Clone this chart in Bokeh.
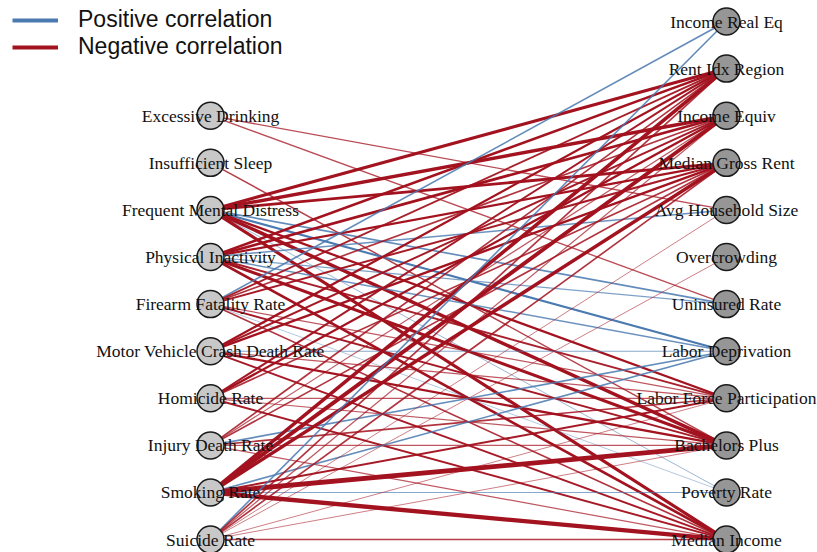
from bokeh.plotting import figure
from bokeh.models import Range1d, ColumnDataSource, Legend, LegendItem
from bokeh.core.properties import value
from bokeh.embed import file_html
from bokeh.resources import INLINE

left_nodes = ["Excessive Drinking", "Insufficient Sleep", "Frequent Mental Distress",
              "Physical Inactivity", "Firearm Fatality Rate", "Motor Vehicle Crash Death Rate",
              "Homicide Rate", "Injury Death Rate", "Smoking Rate", "Suicide Rate"]
right_nodes = ["Income Real Eq", "Rent Idx Region", "Income Equiv", "Median Gross Rent",
               "Avg Household Size", "Overcrowding", "Uninsured Rate", "Labor Deprivation",
               "Labor Force Participation", "Bachelors Plus", "Poverty Rate", "Median Income"]

# edges: (left node, right node, correlation)
edge_src = [
    "Excessive Drinking", "Excessive Drinking",
    "Insufficient Sleep",
    "Frequent Mental Distress", "Frequent Mental Distress", "Frequent Mental Distress",
    "Frequent Mental Distress", "Frequent Mental Distress", "Frequent Mental Distress",
    "Frequent Mental Distress", "Frequent Mental Distress", "Frequent Mental Distress",
    "Physical Inactivity", "Physical Inactivity", "Physical Inactivity", "Physical Inactivity",
    "Physical Inactivity", "Physical Inactivity", "Physical Inactivity", "Physical Inactivity",
    "Physical Inactivity",
    "Firearm Fatality Rate", "Firearm Fatality Rate", "Firearm Fatality Rate", "Firearm Fatality Rate",
    "Firearm Fatality Rate", "Firearm Fatality Rate", "Firearm Fatality Rate", "Firearm Fatality Rate",
    "Motor Vehicle Crash Death Rate", "Motor Vehicle Crash Death Rate", "Motor Vehicle Crash Death Rate",
    "Motor Vehicle Crash Death Rate", "Motor Vehicle Crash Death Rate", "Motor Vehicle Crash Death Rate",
    "Motor Vehicle Crash Death Rate",
    "Homicide Rate", "Homicide Rate", "Homicide Rate", "Homicide Rate", "Homicide Rate", "Homicide Rate",
    "Injury Death Rate", "Injury Death Rate", "Injury Death Rate", "Injury Death Rate",
    "Injury Death Rate", "Injury Death Rate", "Injury Death Rate",
    "Smoking Rate", "Smoking Rate", "Smoking Rate", "Smoking Rate", "Smoking Rate",
    "Smoking Rate", "Smoking Rate", "Smoking Rate",
    "Suicide Rate", "Suicide Rate", "Suicide Rate", "Suicide Rate", "Suicide Rate",
    "Suicide Rate", "Suicide Rate", "Suicide Rate", "Suicide Rate",
]
edge_dst = [
    "Avg Household Size", "Uninsured Rate",
    "Bachelors Plus",
    "Rent Idx Region", "Income Equiv", "Median Gross Rent",
    "Uninsured Rate", "Labor Deprivation", "Poverty Rate",
    "Labor Force Participation", "Bachelors Plus", "Median Income",
    "Rent Idx Region", "Income Equiv", "Median Gross Rent", "Avg Household Size",
    "Uninsured Rate", "Labor Deprivation", "Labor Force Participation", "Bachelors Plus",
    "Median Income",
    "Income Real Eq", "Rent Idx Region", "Income Equiv", "Median Gross Rent",
    "Labor Force Participation", "Bachelors Plus", "Poverty Rate", "Median Income",
    "Rent Idx Region", "Income Equiv", "Median Gross Rent",
    "Labor Deprivation", "Labor Force Participation", "Bachelors Plus",
    "Median Income",
    "Rent Idx Region", "Income Equiv", "Median Gross Rent", "Labor Force Participation",
    "Bachelors Plus", "Median Income",
    "Rent Idx Region", "Income Equiv", "Median Gross Rent", "Labor Deprivation",
    "Labor Force Participation", "Bachelors Plus", "Median Income",
    "Rent Idx Region", "Income Equiv", "Median Gross Rent", "Labor Deprivation",
    "Labor Force Participation", "Bachelors Plus", "Poverty Rate", "Median Income",
    "Income Real Eq", "Rent Idx Region", "Income Equiv", "Median Gross Rent", "Avg Household Size",
    "Overcrowding", "Labor Force Participation", "Bachelors Plus", "Median Income",
]
edge_r = [
    -0.38, -0.38,
    -0.40,
    -0.62, -0.66, -0.58,
    0.42, 0.48, 0.32,
    -0.50, -0.66, -0.62,
    -0.52, -0.56, -0.50, 0.40,
    0.36, 0.40, -0.45, -0.62,
    -0.56,
    0.42, -0.45, -0.42, -0.46,
    -0.36, -0.46, 0.30, -0.42,
    -0.50, -0.46, -0.52,
    0.34, -0.36, -0.50,
    -0.46,
    -0.46, -0.50, -0.42, -0.36,
    -0.36, -0.46,
    -0.42, -0.36, -0.42, 0.42,
    -0.42, -0.36, -0.36,
    -0.68, -0.72, -0.66, 0.42,
    -0.46, -0.85, 0.34, -0.78,
    0.42, -0.42, -0.36, -0.42, -0.32,
    -0.32, -0.32, -0.32, -0.40,
]

POS = "#4a7ab0"
NEG = "#a3121f"

# positions: left column x=0, right column x=1; rows share the same vertical grid
ly = {n: i + 2 for i, n in enumerate(left_nodes)}
ry = {n: i for i, n in enumerate(right_nodes)}

xs, ys, cols, widths, alphas = [], [], [], [], []
for s, d, r in zip(edge_src, edge_dst, edge_r):
    xs.append([0, 1])
    ys.append([ly[s], ry[d]])
    cols.append(POS if r > 0 else NEG)
    widths.append(0.6 + (abs(r) - 0.28) * 7.5)
    alphas.append(min(1.0, 0.5 + (abs(r) - 0.28) * 2.6))

esrc = ColumnDataSource(dict(xs=xs, ys=ys, c=cols, w=widths, a=alphas))

p = figure(width=817, height=552, output_backend="svg", toolbar_location=None,
           x_range=Range1d(-0.40698, 1.17636), y_range=Range1d(11.274, -0.4459),
           min_border=0)
p.axis.visible = False
p.xgrid.visible = False
p.ygrid.visible = False
p.outline_line_color = None

p.multi_line("xs", "ys", source=esrc, line_color="c", line_width="w", line_alpha="a")

p.scatter([0] * len(left_nodes), [ly[n] for n in left_nodes], size=27,
          fill_color="#c8c8c8", line_color="#1a1a1a", line_width=1.5)
p.scatter([1] * len(right_nodes), [ry[n] for n in right_nodes], size=27,
          fill_color="#969696", line_color="#1a1a1a", line_width=1.5)

p.text([0] * len(left_nodes), [ly[n] for n in left_nodes], text=left_nodes,
       text_font=value("Liberation Serif"), text_font_size="17.5px",
       text_align="center", text_baseline="middle", text_color="#111111")
p.text([1] * len(right_nodes), [ry[n] for n in right_nodes], text=right_nodes,
       text_font=value("Liberation Serif"), text_font_size="17.5px",
       text_align="center", text_baseline="middle", text_color="#111111")

rp = p.line([-5, -4], [0, 0], line_color=POS, line_width=4)
rn = p.line([-5, -4], [0, 0], line_color=NEG, line_width=4)
leg = Legend(items=[LegendItem(label="Positive correlation", renderers=[rp]),
                    LegendItem(label="Negative correlation", renderers=[rn])],
             location=(12, 492), margin=0, padding=4, glyph_width=46, glyph_height=24,
             label_standoff=20, spacing=0, label_text_font="Liberation Sans",
             label_text_font_size="23px", label_text_color="#111111",
             border_line_color=None, background_fill_alpha=0)
p.add_layout(leg)

open("out.html", "w").write(file_html(p, INLINE))
